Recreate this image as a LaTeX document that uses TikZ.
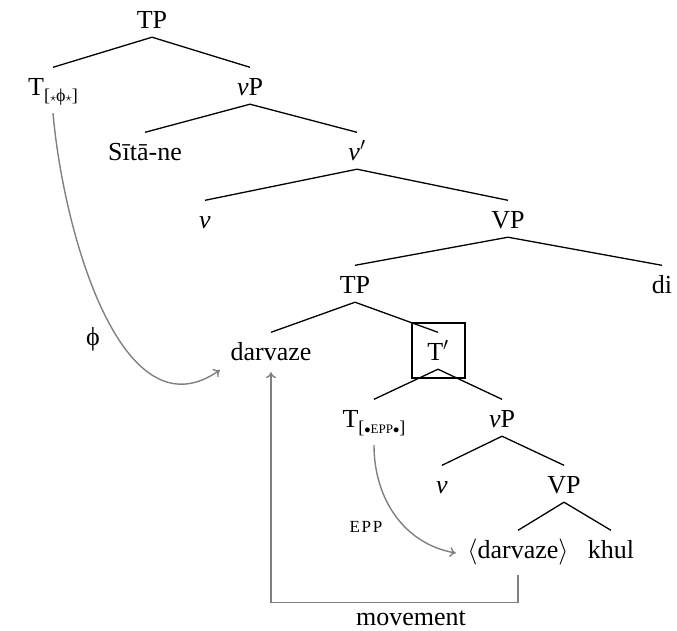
\documentclass[tikz,border=0pt]{standalone}
\usepackage{fix-cm}
\usepackage{fontspec}
\setmainfont{Liberation Serif}
\usepackage{tikz}
\usetikzlibrary{arrows.meta}

\tikzset{
  cat/.style={anchor=base, inner sep=3.5pt, text height=24pt, text depth=5.5pt},
  branch/.style={line width=1.3pt},
  feat/.style={draw=black!50, line width=1.4pt, -{To[length=6pt, width=10pt]}},
}
\newcommand{\featsub}[1]{\raisebox{-6pt}{\fontsize{18}{18}\selectfont[#1]}}
\newcommand{\eppsc}{{\fontsize{13}{13}\selectfont EPP}}

\begin{document}
\begin{tikzpicture}[auto, x=10pt, y=-10pt, font=\fontsize{26}{30}\selectfont]
    \useasboundingbox (0,0) rectangle (67.7,63.0);
    \node[cat] (tpA) at (15.2, 2.8) {TP};
    \node[cat] (tphi) at (5.3, 9.5) {T\featsub{$\scriptstyle\star$ϕ$\scriptstyle\star$}};
    \node[cat] (vpA) at (25.0, 9.5) {\textit{ν}P};
    \node[cat] (sita) at (14.5, 16.0) {Sītā-ne};
    \node[cat] (vbar) at (35.7, 16.0) {\textit{ν}$'$};
    \node[cat] (vA) at (20.5, 22.8) {\textit{ν}};
    \node[cat] (vpB) at (50.8, 22.8) {VP};
    \node[cat] (tpB) at (35.5, 29.3) {TP};
    \node[cat] (di) at (66.2, 29.3) {di};
    \node[cat] (dar) at (27.1, 36.0) {darvaze};
    \node[cat] (tbar) at (43.8, 36.0) {T$'$};
    \node[cat] (tepp) at (37.4, 42.7) {T\featsub{$\scriptstyle\bullet$\eppsc$\scriptstyle\bullet$}};
    \node[cat] (vpC) at (50.2, 42.7) {\textit{ν}P};
    \node[cat] (vB) at (44.2, 49.3) {\textit{ν}};
    \node[cat] (vpD) at (56.4, 49.3) {VP};
    \node[cat] (dartr) at (51.8, 55.8) {$\langle$darvaze$\rangle$};
    \node[cat] (khul) at (61.1, 55.8) {khul};
    \node[anchor=base] (philbl) at (9.3, 34.5) {ϕ};
    \node[anchor=base, font=\fontsize{17}{20}\selectfont\addfontfeature{LetterSpace=10}] (epplbl) at (36.6, 53.2) {EPP};
    \node[anchor=base, inner sep=0.5pt] (movelbl) at (41.1, 62.5) {movement};
    \draw[branch] (tpA.south) -- (tphi.north);
    \draw[branch] (tpA.south) -- (vpA.north);
    \draw[branch] (vpA.south) -- (sita.north);
    \draw[branch] (vpA.south) -- (vbar.north);
    \draw[branch] (vbar.south) -- (vA.north);
    \draw[branch] (vbar.south) -- (vpB.north);
    \draw[branch] (vpB.south) -- (tpB.north);
    \draw[branch] (vpB.south) -- (di.north);
    \draw[branch] (tpB.south) -- (dar.north);
    \draw[branch] (tpB.south) -- (tbar.north);
    \draw[branch] (tbar.south) -- (tepp.north);
    \draw[branch] (tbar.south) -- (vpC.north);
    \draw[branch] (vpC.south) -- (vB.north);
    \draw[branch] (vpC.south) -- (vpD.north);
    \draw[branch] (vpD.south) -- (dartr.north);
    \draw[branch] (vpD.south) -- (khul.north);
    \draw[branch] (41.2,32.3) rectangle (46.5,37.8);
    \draw[feat] ([yshift=-9pt]tphi.south) to[out=-85, in=-145] ([shift={(-7pt,-10pt)}]dar.base west);
    \draw[feat] ([yshift=-9pt]tepp.south) to[out=-90, in=170] ([shift={(-8pt,5pt)}]dartr.base west);
    \draw[feat] ([yshift=-8pt]dartr.south) -- ++(0,2.7) -| ([yshift=-3pt]dar.south);
  \end{tikzpicture}
\end{document}
